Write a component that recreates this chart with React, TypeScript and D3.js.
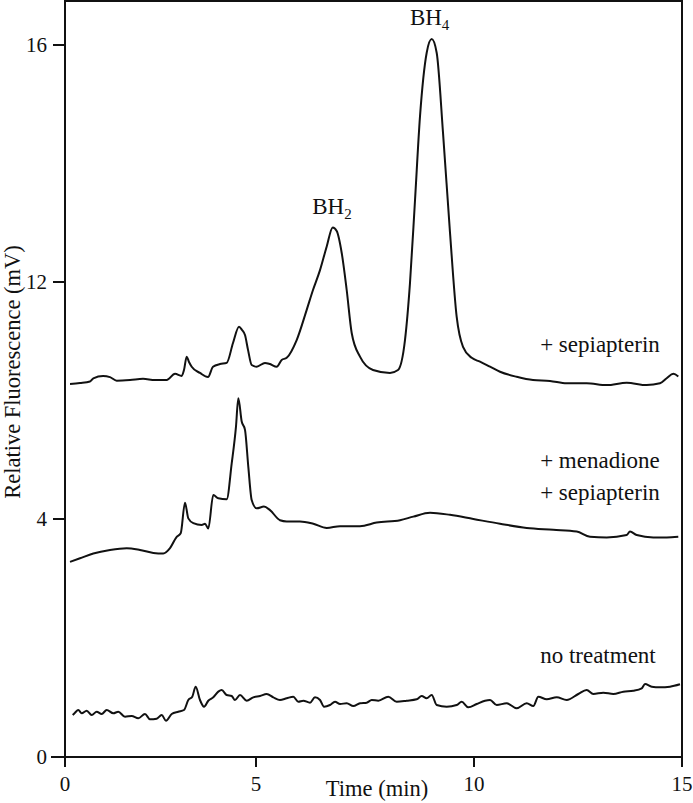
import React from "react";
import * as d3 from "d3";

// ---- Data (time in min, relative fluorescence in mV) ----
const xTicks = [0, 5, 10, 15];
const yTicks = [0, 4, 12, 16];

const sepiapterin: [number, number][] = [
  [0.131, 8.56], [0.393, 8.59], [0.654, 8.64], [0.741, 8.75], [0.995, 8.83], [1.178, 8.79],
  [1.353, 8.67], [1.702, 8.69], [2.042, 8.73], [2.356, 8.69], [2.662, 8.69], [2.880, 8.90],
  [3.055, 8.83], [3.115, 9.03], [3.186, 9.48], [3.246, 9.30], [3.317, 9.14], [3.534, 8.93],
  [3.743, 8.79], [3.874, 9.14], [4.058, 9.23], [4.233, 9.27], [4.398, 9.94], [4.555, 10.49],
  [4.634, 10.38], [4.712, 10.21], [4.791, 9.71], [4.887, 9.20], [5.016, 9.14], [5.206, 9.27],
  [5.321, 9.23], [5.475, 9.14], [5.589, 9.37], [5.704, 9.44], [5.933, 10.04], [6.163, 11.06],
  [6.307, 11.73], [6.468, 12.20], [6.622, 12.60], [6.760, 12.92], [6.851, 12.86], [6.966, 12.49],
  [7.080, 11.73], [7.195, 10.28], [7.385, 9.48], [7.683, 9.03], [8.073, 8.93], [8.257, 9.03],
  [8.417, 10.04], [8.532, 11.97], [8.647, 13.38], [8.761, 14.79], [8.915, 15.87], [9.030, 16.10],
  [9.144, 15.87], [9.289, 14.52], [9.450, 12.83], [9.603, 10.82], [9.748, 9.81], [9.947, 9.44],
  [10.144, 9.31], [10.385, 9.14], [10.625, 8.97], [11.026, 8.80], [11.418, 8.69], [11.827, 8.66],
  [12.228, 8.58], [12.709, 8.58], [13.190, 8.52], [13.671, 8.60], [14.151, 8.52], [14.471, 8.58],
  [14.632, 8.75], [14.791, 8.90], [14.911, 8.81],
];

const menadione: [number, number][] = [
  [0.131, 3.28], [0.393, 3.34], [0.741, 3.42], [1.178, 3.48], [1.615, 3.51], [1.963, 3.48],
  [2.312, 3.43], [2.573, 3.42], [2.749, 3.51], [2.924, 3.70], [3.029, 3.76], [3.141, 4.55],
  [3.228, 4.02], [3.359, 3.93], [3.579, 3.90], [3.665, 3.92], [3.751, 3.84], [3.882, 4.81],
  [4.013, 4.70], [4.233, 4.67], [4.364, 5.88], [4.476, 7.12], [4.537, 8.08], [4.626, 7.29],
  [4.712, 7.01], [4.798, 5.77], [4.887, 4.64], [5.016, 4.36], [5.183, 4.42], [5.321, 4.30],
  [5.550, 3.98], [5.704, 3.96], [6.009, 3.96], [6.314, 3.92], [6.622, 3.85], [6.927, 3.88],
  [7.385, 3.88], [7.768, 3.94], [8.303, 3.98], [8.608, 4.08], [8.991, 4.21], [9.450, 4.14],
  [9.984, 4.00], [10.625, 3.92], [11.267, 3.85], [11.906, 3.82], [12.469, 3.79], [12.788, 3.70],
  [13.190, 3.69], [13.671, 3.73], [13.750, 3.79], [13.911, 3.73], [14.310, 3.69], [14.632, 3.69],
  [14.911, 3.70],
];

const noTreatment: [number, number][] = [
  [0.202, 0.706], [0.262, 0.745], [0.348, 0.790], [0.437, 0.734], [0.568, 0.778], [0.699, 0.706],
  [0.830, 0.761], [0.961, 0.723], [1.092, 0.790], [1.264, 0.734], [1.395, 0.761], [1.571, 0.677],
  [1.746, 0.689], [1.919, 0.650], [2.094, 0.723], [2.225, 0.634], [2.400, 0.644], [2.531, 0.706],
  [2.644, 0.610], [2.793, 0.723], [2.966, 0.761], [3.115, 0.790], [3.228, 0.958], [3.332, 1.013],
  [3.421, 1.182], [3.534, 0.958], [3.639, 0.845], [3.751, 0.946], [3.882, 1.003], [4.013, 1.098],
  [4.102, 1.126], [4.233, 1.042], [4.364, 1.025], [4.450, 0.958], [4.581, 1.042], [4.757, 0.946],
  [4.929, 1.003], [5.092, 1.025], [5.245, 1.059], [5.397, 1.003], [5.550, 0.958], [5.704, 0.987],
  [5.856, 1.013], [5.970, 0.929], [6.085, 0.946], [6.239, 0.913], [6.353, 1.003], [6.468, 0.958],
  [6.560, 0.845], [6.697, 0.874], [6.812, 0.929], [6.927, 0.891], [7.080, 0.903], [7.232, 0.857],
  [7.385, 0.903], [7.539, 0.913], [7.654, 0.958], [7.805, 0.946], [8.034, 1.013], [8.227, 0.929],
  [8.456, 0.946], [8.686, 0.970], [8.800, 1.025], [8.915, 0.987], [9.030, 1.042], [9.144, 0.874],
  [9.374, 0.845], [9.603, 0.874], [9.718, 0.929], [9.869, 0.835], [10.065, 0.891], [10.264, 0.946],
  [10.385, 0.958], [10.546, 0.874], [10.786, 0.903], [11.026, 0.818], [11.267, 0.903], [11.426, 0.857],
  [11.546, 1.013], [11.748, 0.970], [11.988, 1.003], [12.228, 0.958], [12.507, 1.059], [12.709, 1.126],
  [12.868, 1.059], [13.108, 1.081], [13.349, 1.059], [13.589, 1.098], [13.829, 1.114], [14.031, 1.155],
  [14.111, 1.227], [14.272, 1.182], [14.471, 1.171], [14.712, 1.182], [14.952, 1.222],
];

const seriesLabels = [
  { lines: ["+ sepiapterin"], t: 11.59, v: 9.63 },
  { lines: ["+ menadione", "+ sepiapterin"], t: 11.59, v: 5.71 },
  { lines: ["no treatment"], t: 11.59, v: 1.58 },
];

const peakLabels = [
  { base: "BH", sub: "2", t: 6.29, v: 13.15 },
  { base: "BH", sub: "4", t: 8.53, v: 16.33 },
];

const FONT = "'Liberation Serif', 'Times New Roman', serif";
const INK = "#111";

export default function App() {
  const x = d3.scaleLinear().domain(xTicks).range([65, 256, 474, 682]);
  const y = d3.scaleLinear().domain(yTicks).range([757, 519, 282, 45]);
  const line = d3
    .line<[number, number]>()
    .x((d) => x(d[0]))
    .y((d) => y(d[1]))
    .curve(d3.curveMonotoneX);

  const x0 = x(0);
  const x1 = x(15);
  const yb = y(0);
  const yt = 1;

  return (
    <svg
      width={693}
      height={803}
      style={{ position: "absolute", left: 0, top: 0, background: "#fff" }}
      fontFamily={FONT}
    >
      {/* frame */}
      <path
        d={`M${x0},${yb} V${yt} H${x1} V${yb + 10} M${x0 - 14},${yb} H${x1}`}
        fill="none"
        stroke={INK}
        strokeWidth={2}
      />
      {/* x ticks */}
      {xTicks.map((t) => (
        <g key={"xt" + t}>
          <line x1={x(t)} x2={x(t)} y1={yb} y2={yb + 10} stroke={INK} strokeWidth={2} />
          <text x={x(t)} y={791} textAnchor="middle" fontSize={21} fill={INK}>
            {t}
          </text>
        </g>
      ))}
      {/* y ticks */}
      {yTicks.map((v) => (
        <g key={"yt" + v}>
          <line x1={x0 - 12} x2={x0} y1={y(v)} y2={y(v)} stroke={INK} strokeWidth={2} />
          <text x={x0 - 18} y={y(v) + 7} textAnchor="end" fontSize={21} fill={INK}>
            {v}
          </text>
        </g>
      ))}
      {/* axis titles */}
      <text x={377} y={796} textAnchor="middle" fontSize={22.5} fill={INK}>
        Time (min)
      </text>
      <text
        transform={`translate(20,372) rotate(-90)`}
        textAnchor="middle"
        fontSize={22.5}
        fill={INK}
      >
        Relative Fluorescence (mV)
      </text>

      {/* traces */}
      {[sepiapterin, menadione, noTreatment].map((s, i) => (
        <path
          key={"s" + i}
          d={line(s) || ""}
          fill="none"
          stroke={INK}
          strokeWidth={2}
          strokeLinejoin="round"
        />
      ))}

      {/* series labels */}
      {seriesLabels.map((l, i) => (
        <text key={"l" + i} x={x(l.t)} y={y(l.v)} fontSize={23} fill={INK}>
          {l.lines.map((ln, j) => (
            <tspan key={j} x={x(l.t)} dy={j === 0 ? 0 : 32}>
              {ln}
            </tspan>
          ))}
        </text>
      ))}

      {/* peak labels */}
      {peakLabels.map((p, i) => (
        <text key={"p" + i} x={x(p.t)} y={y(p.v)} fontSize={23} fill={INK}>
          {p.base}
          <tspan fontSize={15} dy={5}>
            {p.sub}
          </tspan>
        </text>
      ))}
    </svg>
  );
}
